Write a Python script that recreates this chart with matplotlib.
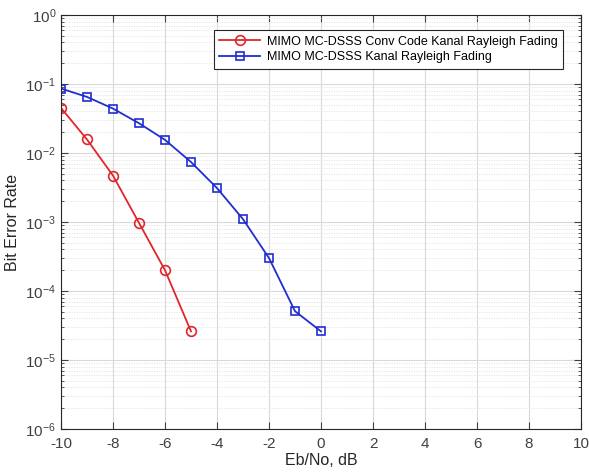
import matplotlib
matplotlib.use("Agg")
import matplotlib.pyplot as plt
import numpy as np

plt.rcParams['font.family'] = ['Liberation Sans', 'DejaVu Sans']
plt.rcParams['axes.unicode_minus'] = False

ebno_red = [-10, -9, -8, -7, -6, -5]
ber_red = [0.045, 0.0157, 0.0047, 0.00097, 0.0002, 2.6e-5]
ebno_blue = [-10, -9, -8, -7, -6, -5, -4, -3, -2, -1, 0]
ber_blue = [0.086, 0.065, 0.044, 0.027, 0.0155, 0.0074, 0.0031, 0.0011, 0.0003, 5.1e-5, 2.6e-5]
labels = ['MIMO MC-DSSS Conv Code Kanal Rayleigh Fading', 'MIMO MC-DSSS Kanal Rayleigh Fading']

fig = plt.figure(figsize=(5.89, 4.74), dpi=100)
ax = fig.add_axes([61/589, 45/474, 520/589, 414/474])
ax.semilogy(ebno_red, ber_red, '-o', color='#e0262a', mfc='none', ms=7, mew=1.2, lw=1.3, label=labels[0])
ax.semilogy(ebno_blue, ber_blue, '-s', color='#1f2ed0', mfc='none', ms=6, mew=1.2, lw=1.3, label=labels[1])
ax.set_xlim(-10, 10)
ax.set_ylim(1e-6, 1)
ax.set_xticks(np.arange(-10, 11, 2))
ax.grid(True, which='major', color='#d9d9d9', lw=0.8)
ax.grid(True, which='minor', color='#e3e3e3', lw=0.6, ls=(0, (1.5, 1.5)))
ax.tick_params(which='both', direction='in', top=True, right=True, colors='#404040', labelsize=11)
ax.tick_params(axis='x', which='major', pad=6)
ax.tick_params(which='major', length=5)
ax.tick_params(which='minor', length=2.5)
for s in ax.spines.values():
    s.set_color('#262626')
    s.set_linewidth(0.8)
ax.set_xlabel('Eb/No, dB', fontsize=11.5, color='#262626', labelpad=1)
ax.set_ylabel('Bit Error Rate', fontsize=11.5, color='#262626')
leg = ax.legend(loc='upper right', bbox_to_anchor=((563 - 61) / 520, 1 - (30 - 15) / 414), bbox_transform=ax.transAxes,
                fontsize=9, frameon=True, fancybox=False, edgecolor='#262626', framealpha=1,
                handlelength=3.3, borderpad=0.45, labelspacing=0.3, handletextpad=0.5, borderaxespad=0)
leg.get_frame().set_linewidth(0.8)
fig.savefig('out.png', dpi=100)
